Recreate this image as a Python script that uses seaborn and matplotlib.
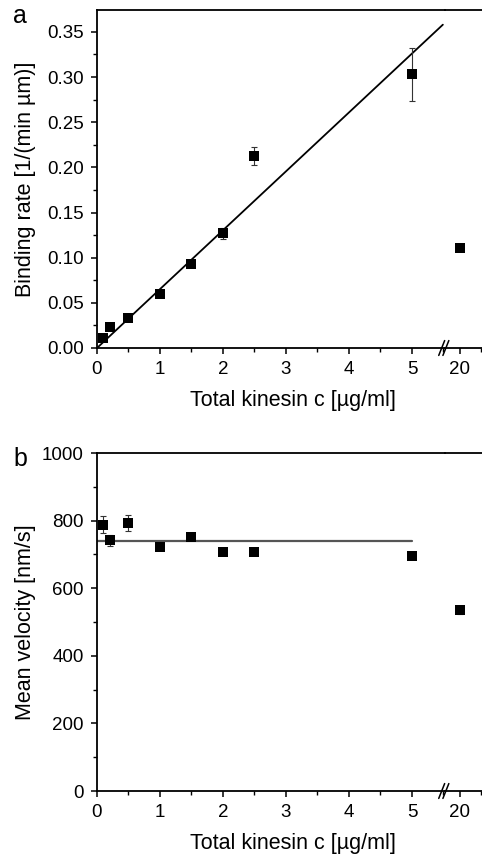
import matplotlib
matplotlib.use("Agg")
import matplotlib.pyplot as plt
import seaborn as sns
import pandas as pd
from matplotlib.ticker import MultipleLocator

# data
conc = [0.1, 0.2, 0.5, 1.0, 1.5, 2.0, 2.5, 5.0, 20.0]
binding_rate = [0.011, 0.023, 0.033, 0.060, 0.093, 0.127, 0.213, 0.303, 0.111]
binding_err = [0.003, 0.003, 0.003, 0.003, 0.003, 0.006, 0.010, 0.029, 0.003]
velocity = [788, 742, 794, 722, 751, 706, 706, 696, 535]
velocity_err = [25, 16, 24, 8, 8, 8, 8, 10, 12]
fit_slope = 0.0652
fit_x = [0.0, 5.49]
fit_y = [fit_slope * x for x in fit_x]
mean_v = 740
mean_x = [0.0, 5.0]

df = pd.DataFrame({"c": conc, "rate": binding_rate, "rate_err": binding_err,
                   "v": velocity, "v_err": velocity_err})

sns.set_theme(style="ticks")
plt.rcParams["font.family"] = ["Liberation Sans", "DejaVu Sans"]
plt.rcParams["axes.linewidth"] = 1.3
for k in ("text.color", "axes.labelcolor", "xtick.color", "ytick.color", "axes.edgecolor"):
    plt.rcParams[k] = "black"

W, H = 482, 859
fig = plt.figure(figsize=(W / 100, H / 100), dpi=100)


def pix_axes(x0, x1, ytop, ybot):
    return fig.add_axes([x0 / W, (H - ybot) / H, (x1 - x0) / W, (ybot - ytop) / H])


def panel(ytop, ybot, col, err, ylim, major, minor, ylabel, letter, fit, fmt):
    axl = pix_axes(97, 445, ytop, ybot)
    axr = pix_axes(445, 482, ytop, ybot)
    left = df[df["c"] <= 5]
    right = df[df["c"] > 5]
    for ax, d in ((axl, left), (axr, right)):
        ax.errorbar(d["c"], d[col], yerr=d[err], fmt="none", ecolor="#333333",
                    elinewidth=0.8, capsize=2, capthick=0.8, zorder=2)
        sns.scatterplot(data=d, x="c", y=col, marker="s", s=60, color="black",
                        edgecolor="black", linewidth=0, ax=ax, zorder=3)
        ax.set_ylim(*ylim)
        ax.set_xlabel("")
        ax.set_ylabel("")
        ax.spines["right"].set_visible(False)
        ax.tick_params(direction="out", length=4.5, width=1.1, labelsize=13.5, pad=5)
        ax.tick_params(which="minor", direction="out", length=3, width=1)
    fit(axl)
    axl.set_xlim(0, 5.524)
    axl.xaxis.set_major_locator(MultipleLocator(1))
    axl.xaxis.set_minor_locator(MultipleLocator(0.5))
    axl.yaxis.set_major_locator(MultipleLocator(major))
    axl.yaxis.set_minor_locator(MultipleLocator(minor))
    axl.yaxis.set_major_formatter(fmt)
    axr.set_xlim(19.643, 20.524)
    axr.set_xticks([20])
    axr.set_xticks([20.5], minor=True)
    axr.set_yticks([])
    axr.spines["left"].set_visible(False)
    axr.patch.set_alpha(0)
    # break marks
    for dx in (-0.012, 0.0):
        axl.plot([0.994 + dx, 1.011 + dx], [-0.022, 0.022], transform=axl.transAxes,
                 color="black", lw=1.1, clip_on=False, zorder=5)
    axl.set_ylabel(ylabel, fontsize=15.5)
    axl.yaxis.set_label_coords(-0.175, 0.5)
    axl.set_xlabel("Total kinesin c [µg/ml]", fontsize=15.5)
    axl.xaxis.set_label_coords((293 - 97) / 348, -0.125)
    fig.text(13 / W, 1 - (ytop + 13) / H, letter, fontsize=18, va="baseline", ha="left")
    return axl


def fit_a(ax):
    sns.lineplot(x=fit_x, y=fit_y, color="black", lw=1.3, ax=ax, zorder=1)


def fit_b(ax):
    sns.lineplot(x=mean_x, y=[mean_v, mean_v], color="#555555", lw=1.6, ax=ax, zorder=1)


panel(10, 348, "rate", "rate_err", (0, 0.3742), 0.05, 0.025,
      "Binding rate [1/(min µm)]", "a", fit_a, "{x:.2f}")
panel(453, 791, "v", "v_err", (0, 1000), 200, 100,
      "Mean velocity [nm/s]", "b", fit_b, "{x:.0f}")

fig.savefig("out.png", dpi=100)
